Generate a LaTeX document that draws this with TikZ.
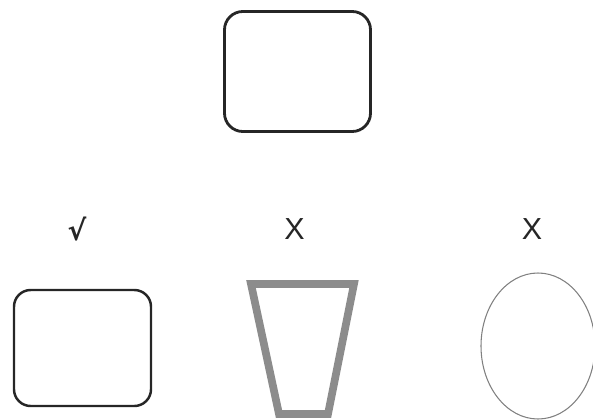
\documentclass[tikz,border=0pt]{standalone}
\usepackage{fontspec}
\setmainfont{Liberation Sans}
\newfontfamily\symbolfont{DejaVu Sans}
\usetikzlibrary{shapes.geometric,positioning}

\begin{document}
\begin{tikzpicture}[
    x=0.03cm, y=-0.03cm,
    every node/.style={inner sep=0pt, outer sep=0pt},
    card/.style={
        draw=black!85,
        line width=2.4pt,
        rounded corners=0.55cm
    },
    bucket/.style={
        draw=black!45,
        line width=6.6pt,
        line join=miter
    },
    egg/.style={
        draw=black!50,
        line width=0.9pt,
        shape=ellipse
    },
    verdict/.style={
        font=\fontsize{26}{30}\selectfont,
        text=black!85
    }
]

\useasboundingbox (0,0) rectangle (593,419);

% ==========================================================
% TARGET SHAPE
% ==========================================================

\node[
    card,
    minimum width=4.38cm,
    minimum height=3.6cm
] (target) at (297.5,71.5) {};

% ==========================================================
% CANDIDATES
% ==========================================================

\node[
    card,
    line width=2.1pt,
    rounded corners=0.5cm,
    minimum width=4.11cm,
    minimum height=3.48cm
] (roundbox) at (82.5,348) {};

% trapezium drawn as a plain path
\coordinate (trapTL) at (251,284);
\coordinate (trapTR) at (354,284);
\coordinate (trapBR) at (328,414);
\coordinate (trapBL) at (279,414);
\draw[bucket] (trapTL) -- (trapTR) -- (trapBR) -- (trapBL) -- cycle;

\node[
    egg,
    minimum width=3.42cm,
    minimum height=4.38cm
] (ovalbox) at (538,346) {};

% ==========================================================
% VERDICTS
% ==========================================================

\node[verdict, font=\symbolfont\bfseries\fontsize{24}{28}\selectfont] (okmark) at (77,229) {√};
\node[verdict] (nomarkA) at (294.5,229.5) {X};
\node[verdict] (nomarkB) at (532,229.5) {X};

\end{tikzpicture}
\end{document}
